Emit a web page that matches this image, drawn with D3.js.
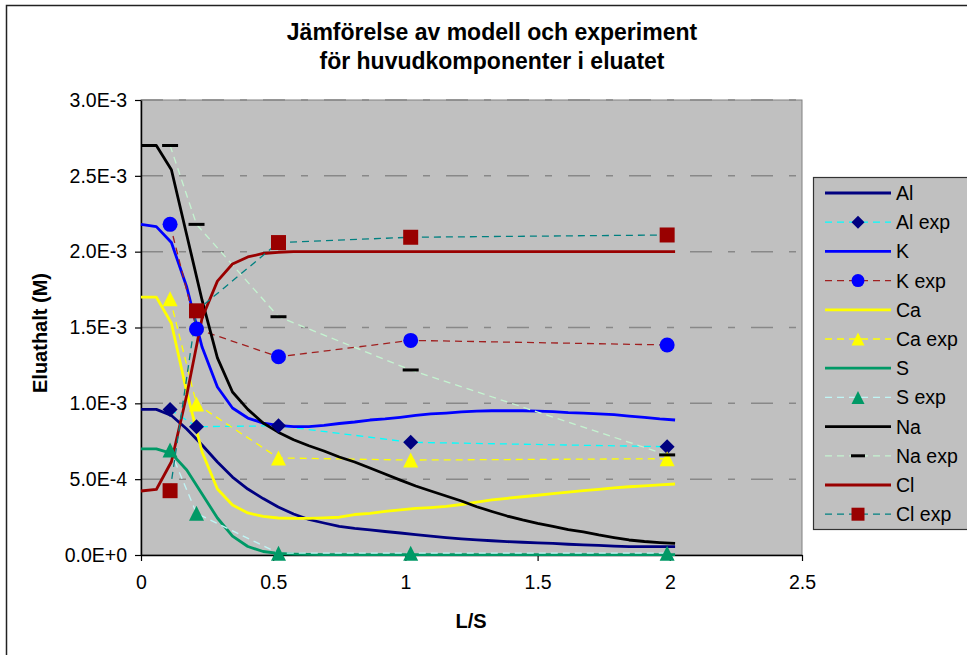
<!DOCTYPE html>
<html><head><meta charset="utf-8">
<script src="https://cdnjs.cloudflare.com/ajax/libs/d3/7.8.5/d3.min.js"></script>
<style>
html,body{margin:0;padding:0;background:#fff;}
svg{display:block;font-family:"Liberation Sans",Arial,sans-serif;}
</style></head><body>
<svg id="chart" width="967" height="655"></svg>
<script>
// ---------- DATA ----------
const titleLines = ["Jämförelse av modell och experiment", "för huvudkomponenter i eluatet"];
const xTitle = "L/S";
const yTitle = "Eluathalt (M)";
const xTickValues = [0, 0.5, 1, 1.5, 2, 2.5];
const xTickLabels = ["0", "0.5", "1", "1.5", "2", "2.5"];
const yTickValues = [0, 5e-4, 1e-3, 1.5e-3, 2e-3, 2.5e-3, 3e-3];
const yTickLabels = ["0.0E+0", "5.0E-4", "1.0E-3", "1.5E-3", "2.0E-3", "2.5E-3", "3.0E-3"];

// model L/S grid
const modelX = [0, 0.058, 0.115, 0.173, 0.231, 0.289, 0.346, 0.404, 0.462, 0.519, 0.577, 0.635,
  0.692, 0.750, 0.808, 0.866, 0.923, 0.981, 1.039, 1.096, 1.154, 1.212, 1.270, 1.327,
  1.385, 1.443, 1.500, 1.558, 1.616, 1.673, 1.731, 1.789, 1.846, 1.904, 1.962, 2.020];

const alModel = [9.6e-4, 9.6e-4, 9.2e-4, 8.31e-4, 7.25e-4, 6.13e-4, 5.14e-4, 4.35e-4, 3.72e-4, 3.16e-4,
  2.70e-4, 2.34e-4, 2.11e-4, 1.89e-4, 1.75e-4, 1.65e-4, 1.55e-4, 1.45e-4, 1.35e-4, 1.25e-4,
  1.15e-4, 1.07e-4, 1.00e-4, 9.4e-5, 8.8e-5, 8.4e-5, 8.0e-5, 7.6e-5, 7.1e-5, 6.7e-5,
  6.3e-5, 5.8e-5, 5.5e-5, 5.5e-5, 5.5e-5, 5.5e-5];
const kModel = [2.18e-3, 2.165e-3, 2.06e-3, 1.767e-3, 1.371e-3, 1.108e-3, 9.69e-4, 9.03e-4, 8.70e-4, 8.54e-4,
  8.47e-4, 8.47e-4, 8.54e-4, 8.67e-4, 8.77e-4, 8.90e-4, 8.97e-4, 9.08e-4, 9.20e-4, 9.30e-4,
  9.36e-4, 9.43e-4, 9.49e-4, 9.51e-4, 9.51e-4, 9.51e-4, 9.49e-4, 9.45e-4, 9.39e-4, 9.36e-4,
  9.31e-4, 9.26e-4, 9.16e-4, 9.07e-4, 8.97e-4, 8.90e-4];
const caModel = [1.70e-3, 1.70e-3, 1.528e-3, 1.075e-3, 6.79e-4, 4.35e-4, 3.30e-4, 2.77e-4, 2.54e-4, 2.44e-4,
  2.42e-4, 2.42e-4, 2.45e-4, 2.49e-4, 2.67e-4, 2.75e-4, 2.87e-4, 2.97e-4, 3.07e-4, 3.13e-4,
  3.21e-4, 3.33e-4, 3.49e-4, 3.63e-4, 3.74e-4, 3.84e-4, 3.94e-4, 4.05e-4, 4.15e-4, 4.24e-4,
  4.33e-4, 4.42e-4, 4.50e-4, 4.56e-4, 4.62e-4, 4.68e-4];
const sModel = [7.0e-4, 7.0e-4, 6.7e-4, 5.6e-4, 4.02e-4, 2.44e-4, 1.25e-4, 5.6e-5, 2.3e-5, 1.0e-5,
  6e-6, 4e-6, 3e-6, 3e-6, 2e-6, 2e-6, 2e-6, 2e-6, 2e-6, 2e-6,
  2e-6, 2e-6, 2e-6, 2e-6, 2e-6, 2e-6, 2e-6, 2e-6, 2e-6, 2e-6,
  2e-6, 2e-6, 2e-6, 2e-6, 2e-6, 2e-6];
const naModel = [2.70e-3, 2.70e-3, 2.54e-3, 2.11e-3, 1.68e-3, 1.30e-3, 1.075e-3, 9.6e-4, 8.7e-4, 8.1e-4,
  7.6e-4, 7.2e-4, 6.86e-4, 6.46e-4, 6.13e-4, 5.74e-4, 5.34e-4, 4.94e-4, 4.55e-4, 4.22e-4,
  3.89e-4, 3.56e-4, 3.18e-4, 2.87e-4, 2.57e-4, 2.31e-4, 2.08e-4, 1.88e-4, 1.68e-4, 1.52e-4,
  1.32e-4, 1.15e-4, 9.9e-5, 8.9e-5, 8.2e-5, 7.7e-5];
const clModel = [4.22e-4, 4.32e-4, 6.15e-4, 1.055e-3, 1.563e-3, 1.806e-3, 1.919e-3, 1.965e-3, 1.988e-3, 1.996e-3,
  2.0e-3, 2.0e-3, 2.0e-3, 2.0e-3, 2.0e-3, 2.0e-3, 2.0e-3, 2.0e-3, 2.0e-3, 2.0e-3,
  2.0e-3, 2.0e-3, 2.0e-3, 2.0e-3, 2.0e-3, 2.0e-3, 2.0e-3, 2.0e-3, 2.0e-3, 2.0e-3,
  2.0e-3, 2.0e-3, 2.0e-3, 2.0e-3, 2.0e-3, 2.0e-3];

// experiments
const expX = [0.11, 0.21, 0.52, 1.02, 1.99];
const alExp = [9.6e-4, 8.46e-4, 8.52e-4, 7.43e-4, 7.14e-4];
const kExp  = [2.18e-3, 1.49e-3, 1.307e-3, 1.415e-3, 1.385e-3];
const caExp = [1.69e-3, 9.95e-4, 6.4e-4, 6.26e-4, 6.35e-4];
const sExp  = [6.92e-4, 2.75e-4, 1.2e-5, 1.2e-5, 1.2e-5];
const naExp = [2.70e-3, 2.18e-3, 1.571e-3, 1.22e-3, 6.6e-4];
const clExp = [4.24e-4, 1.61e-3, 2.06e-3, 2.095e-3, 2.11e-3];

const seriesNames = ["Al", "Al exp", "K", "K exp", "Ca", "Ca exp", "S", "S exp", "Na", "Na exp", "Cl", "Cl exp"];

// ---------- STYLE ----------
const series = [
  {name: "Al", x: modelX, y: alModel, line: "#000080", dash: null},
  {name: "Al exp", x: expX, y: alExp, line: "#00ffff", dash: "7,5", marker: "diamond", mcolor: "#000080"},
  {name: "K", x: modelX, y: kModel, line: "#0000ff", dash: null},
  {name: "K exp", x: expX, y: kExp, line: "#a02020", dash: "7,5", marker: "circle", mcolor: "#0000ff"},
  {name: "Ca", x: modelX, y: caModel, line: "#ffff00", dash: null},
  {name: "Ca exp", x: expX, y: caExp, line: "#ffff00", dash: "7,5", marker: "triangle", mcolor: "#ffff00"},
  {name: "S", x: modelX, y: sModel, line: "#009966", dash: null},
  {name: "S exp", x: expX, y: sExp, line: "#bff5f5", dash: "7,5", marker: "triangle", mcolor: "#009966"},
  {name: "Na", x: modelX, y: naModel, line: "#000000", dash: null},
  {name: "Na exp", x: expX, y: naExp, line: "#c4f4d0", dash: "7,5", marker: "dash", mcolor: "#000000"},
  {name: "Cl", x: modelX, y: clModel, line: "#990000", dash: null},
  {name: "Cl exp", x: expX, y: clExp, line: "#008080", dash: "7,5", marker: "square", mcolor: "#990000"}
];

const svg = d3.select("#chart");
const plot = {l: 141, r: 802, t: 100, b: 555};

const x = d3.scaleLinear().domain([0, 2.5]).range([plot.l, plot.r]);
const y = d3.scaleLinear().domain([0, 3e-3]).range([plot.b, plot.t]);

// chart area border
svg.append("rect").attr("x", 6.5).attr("y", 5.5).attr("width", 1000).attr("height", 700)
  .attr("fill", "#fff").attr("stroke", "#222").attr("stroke-width", 1.5);

// plot area
svg.append("rect").attr("x", plot.l).attr("y", plot.t).attr("width", plot.r - plot.l).attr("height", plot.b - plot.t)
  .attr("fill", "#c0c0c0").attr("stroke", "#808080").attr("stroke-width", 1);

// gridlines
svg.append("g").selectAll("line").data(yTickValues.slice(1)).join("line")
  .attr("x1", plot.l).attr("x2", plot.r)
  .attr("y1", d => y(d)).attr("y2", d => y(d))
  .attr("stroke", "#888").attr("stroke-width", 1.5)
  .attr("stroke-dasharray", "22,16,7,16");

// axes
const fmtY = d => yTickLabels[yTickValues.indexOf(d)];
const fmtX = d => xTickLabels[xTickValues.indexOf(d)];
const gy = svg.append("g").attr("transform", `translate(${plot.l},0)`)
  .call(d3.axisLeft(y).tickValues(yTickValues).tickFormat(fmtY).tickSize(6).tickSizeOuter(0).tickPadding(8));
const gx = svg.append("g").attr("transform", `translate(0,${plot.b})`)
  .call(d3.axisBottom(x).tickValues(xTickValues).tickFormat(fmtX).tickSize(6).tickSizeOuter(0).tickPadding(14));
[gx, gy].forEach(g => {
  g.select(".domain").attr("stroke", "#000").attr("stroke-width", 1.5);
  g.selectAll(".tick line").attr("stroke", "#000").attr("stroke-width", 1.2);
  g.selectAll(".tick text").attr("fill", "#000").style("font-size", "19.5px")
    .style("font-family", '"Liberation Sans", Arial, sans-serif');
});

// lines
const lineGen = s => d3.line().x((d, i) => x(s.x[i])).y(d => y(d));
const gLines = svg.append("g");
series.forEach(s => {
  gLines.append("path").datum(s.y)
    .attr("d", lineGen(s))
    .attr("fill", "none")
    .attr("stroke", s.line)
    .attr("stroke-width", s.dash ? 1.3 : 2.8)
    .attr("stroke-dasharray", s.dash)
    .attr("stroke-linejoin", "round");
});

// marker path generator
function markerPath(type, r) {
  switch (type) {
    case "diamond": return `M0,${-r}L${r},0L0,${r}L${-r},0Z`;
    case "square": return `M${-r},${-r}H${r}V${r}H${-r}Z`;
    case "triangle": return `M0,${-r}L${r},${r}L${-r},${r}Z`;
    case "circle": return d3.symbol(d3.symbolCircle, Math.PI * r * r)();
    case "dash": return `M${-r - 0.5},-1.5H${r + 0.5}V1.5H${-r - 0.5}Z`;
  }
}
const gMarks = svg.append("g");
series.filter(s => s.marker).forEach(s => {
  gMarks.append("g").selectAll("path").data(s.y).join("path")
    .attr("transform", (d, i) => `translate(${x(s.x[i])},${y(d)})`)
    .attr("d", markerPath(s.marker, 7.5))
    .attr("fill", s.mcolor);
});

// titles
const title = svg.append("text").attr("text-anchor", "middle")
  .style("font-weight", "bold").style("font-size", "23px").attr("fill", "#000");
titleLines.forEach((t, i) => {
  title.append("tspan").attr("x", 492).attr("y", 40 + i * 29).text(t);
});
svg.append("text").attr("x", 471).attr("y", 628).attr("text-anchor", "middle")
  .style("font-weight", "bold").style("font-size", "20px").text(xTitle);
svg.append("text").attr("transform", "translate(47,333) rotate(-90)").attr("text-anchor", "middle")
  .style("font-weight", "bold").style("font-size", "20px").text(yTitle);

// legend
const leg = svg.append("g");
leg.append("rect").attr("x", 813.5).attr("y", 177.5).attr("width", 200).attr("height", 352)
  .attr("fill", "#c0c0c0").attr("stroke", "#333").attr("stroke-width", 1.2);
series.forEach((s, i) => {
  const cy = 193 + i * 29.2;
  leg.append("line").attr("x1", 825).attr("x2", 891).attr("y1", cy).attr("y2", cy)
    .attr("stroke", s.line).attr("stroke-width", s.dash ? 1.3 : 2.8)
    .attr("stroke-dasharray", s.dash);
  if (s.marker) {
    leg.append("path").attr("transform", `translate(858,${cy})`)
      .attr("d", markerPath(s.marker, 6.5)).attr("fill", s.mcolor);
  }
  leg.append("text").attr("x", 896).attr("y", cy).attr("dy", "0.36em")
    .style("font-size", "19.5px").attr("fill", "#000").text(seriesNames[i]);
});
</script>
</body></html>
